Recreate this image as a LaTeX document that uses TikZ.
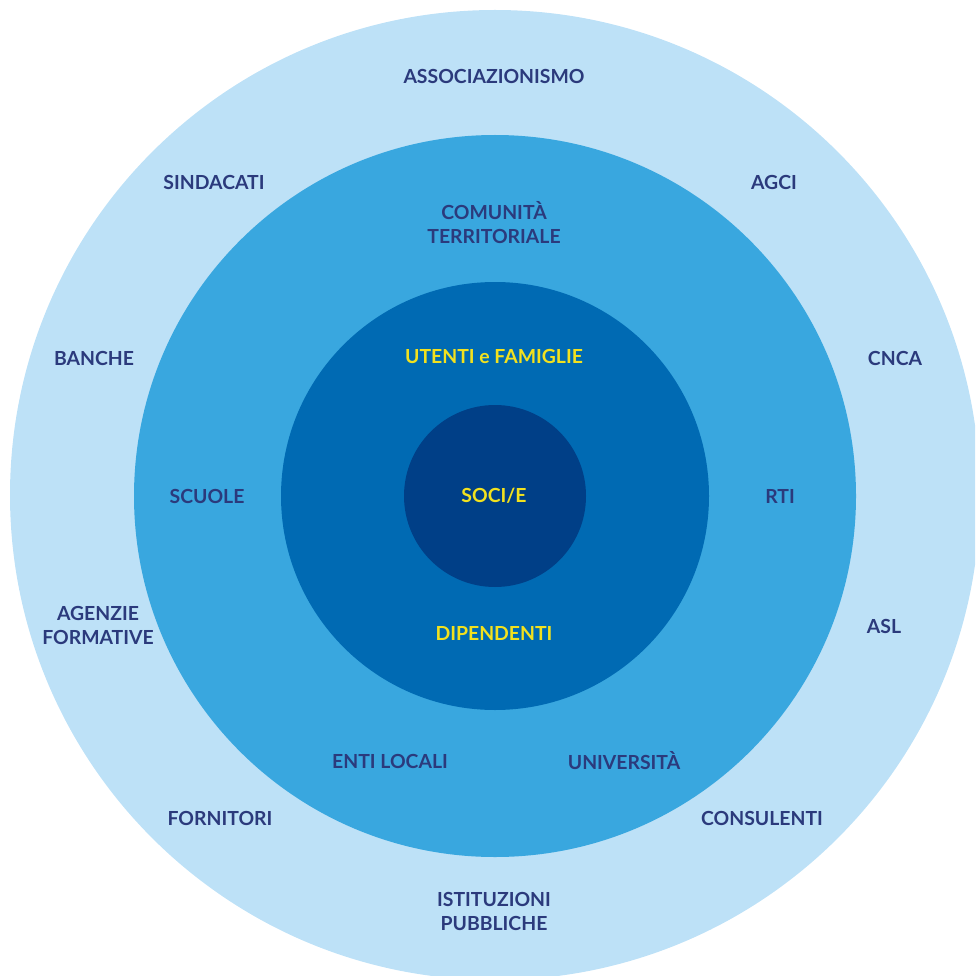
\documentclass[tikz,border=0pt]{standalone}
\usepackage{fontspec}
\setmainfont{Lato}
\definecolor{ringA}{HTML}{BDE1F7}
\definecolor{ringB}{HTML}{39A7DF}
\definecolor{ringC}{HTML}{006AB3}
\definecolor{ringD}{HTML}{003F87}
\definecolor{navy}{HTML}{2B3A7C}
\definecolor{gold}{HTML}{F2E11E}
\tikzset{
  lbl/.style={font=\fontsize{19.4}{24}\selectfont\bfseries, text=navy, align=center, inner sep=0pt},
  ylbl/.style={lbl, text=gold}
}
\begin{document}
\begin{tikzpicture}[x=1pt,y=-1pt]
\useasboundingbox (0,0) rectangle (975,976);
\clip (0,0) rectangle (975,976);
\fill[ringA] (495,495) circle (485);
\fill[ringB] (495,496) circle (361);
\fill[ringC] (495,496) circle (214);
\fill[ringD] (495,496) circle (91);
\node[lbl] (assoc) at (494,76) {ASSOCIAZIONISMO};
\node[lbl] (sind) at (214,182) {SINDACATI};
\node[lbl] (agci) at (774,182) {AGCI};
\node[lbl] (comun) at (494,223) {COMUNITÀ\\TERRITORIALE};
\node[lbl] (banche) at (94,358) {BANCHE};
\node[lbl] (cnca) at (895,358) {CNCA};
\node[ylbl] (utenti) at (494,356) {UTENTI e FAMIGLIE};
\node[lbl] (scuole) at (207,496) {SCUOLE};
\node[ylbl] (soci) at (494,496) {SOCI/E};
\node[lbl] (rti) at (780,496) {RTI};
\node[lbl] (agenzie) at (98,625) {AGENZIE\\FORMATIVE};
\node[lbl] (asl) at (884,626) {ASL};
\node[ylbl] (dip) at (494,633) {DIPENDENTI};
\node[lbl] (enti) at (390,761) {ENTI LOCALI};
\node[lbl] (univ) at (624,761) {UNIVERSITÀ};
\node[lbl] (forn) at (220,818) {FORNITORI};
\node[lbl] (cons) at (762,818) {CONSULENTI};
\node[lbl] (ist) at (494,911) {ISTITUZIONI\\PUBBLICHE};
\end{tikzpicture}
\end{document}
